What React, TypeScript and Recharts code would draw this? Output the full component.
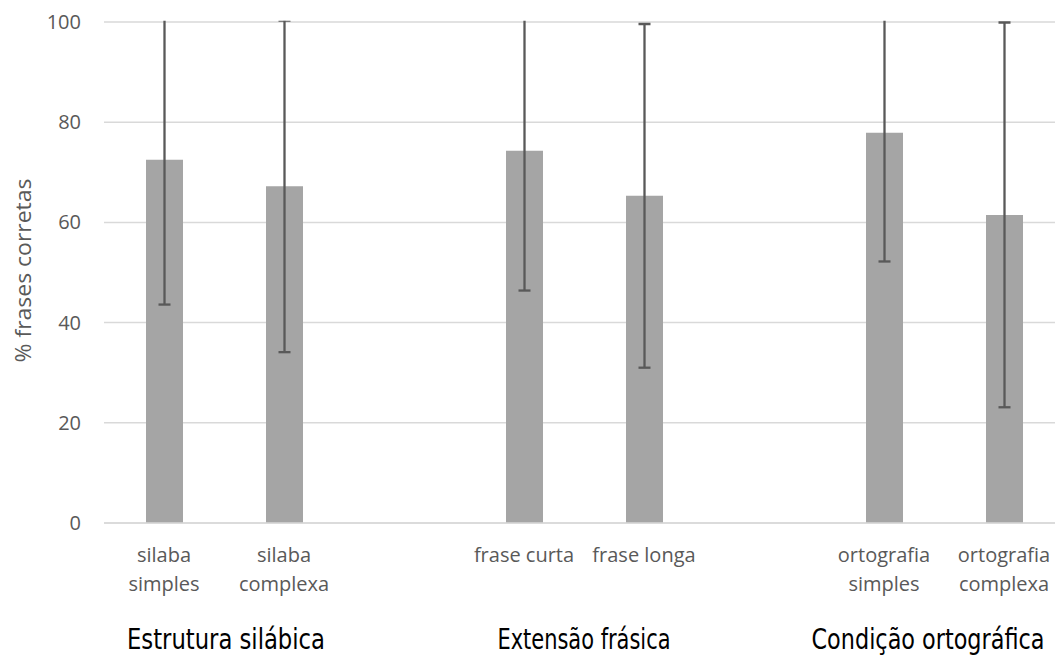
import { BarChart, Bar, XAxis, YAxis, CartesianGrid, ErrorBar } from 'recharts';

// categories (empty strings are the gaps between groups)
const categoryLabels = ['silaba\nsimples', 'silaba\ncomplexa', '', 'frase curta', 'frase longa', '', 'ortografia\nsimples', 'ortografia\ncomplexa'];
const means = [72.5, 67.2, null, 74.3, 65.3, null, 77.9, 61.5];
const lowerEnds = [43.6, 34.1, null, 46.4, 31.0, null, 52.2, 23.1];

const groupLabels = ['Estrutura silábica', 'Extensão frásica', 'Condição ortográfica'];
const groupFirstIndex = [0, 3, 6];

const yTicks = [0, 20, 40, 60, 80, 100];
const yTitle = '% frases corretas';

const data = categoryLabels.map((label, i) => ({
    key: `c${i}`,
    label,
    mean: means[i],
    err: means[i] != null && lowerEnds[i] != null ? means[i]! - lowerEnds[i]! : undefined,
}));

// layout tweaks for the group captions (hand placed text boxes in the original)
const groupDx = [2, 0, -16];
const groupBaseline = [649, 649, 649];
const groupFont = [28, 28, 28];
const groupWidth = [198, 173, 233];

const XTick = (props: any) => {
    const { x, y, payload } = props;
    const i = payload.index;
    const lines = (categoryLabels[i] || '').split('\n');
    const g = groupFirstIndex.indexOf(i);
    return (
        <g>
            <text x={x} y={y} textAnchor="middle" fill="#595959" fontSize={20} fontFamily="'Open Sans', sans-serif">
                {lines.map((l, k) => (
                    <tspan key={k} x={x} dy={k === 0 ? 31 : 29}>{l}</tspan>
                ))}
            </text>
            {g >= 0 && (
                <text
                    x={x + payload.offset + groupDx[g]}
                    y={groupBaseline[g]}
                    textAnchor="middle"
                    fill="#000"
                    fontSize={groupFont[g]}
                    fontFamily="'Liberation Sans Narrow', 'DejaVu Sans Condensed', sans-serif"
                    textLength={groupWidth[g]}
                    lengthAdjust="spacingAndGlyphs"
                >
                    {groupLabels[g]}
                </text>
            )}
        </g>
    );
};

const YTick = (props: any) => {
    const { y, payload } = props;
    return (
        <text x={81} y={y} dy={7} textAnchor="end" fill="#595959" fontSize={20} fontFamily="'Open Sans', sans-serif">
            {payload.value}
        </text>
    );
};

const YTitle = (props: any) => {
    const vb = props.viewBox || {};
    const cx = 22;
    const cy = (vb.y ?? 22) + (vb.height ?? 501) / 2 - 2;
    return (
        <text
            x={cx}
            y={cy}
            transform={`rotate(-90 ${cx} ${cy})`}
            textAnchor="middle"
            dominantBaseline="central"
            fill="#595959"
            fontSize={22}
            textLength={184}
            lengthAdjust="spacingAndGlyphs"
            fontFamily="'Open Sans', sans-serif"
        >
            {yTitle}
        </text>
    );
};

export default function App() {
    return (
        <div style={{ position: 'absolute', left: 0, top: 0, width: 1055, height: 663, overflow: 'hidden', background: '#fff' }}>
            {/* error bars above 100 are cut at the plot edge, like in the source chart */}
            <style>{`.recharts-errorBar { clip-path: url(#errClip); }`}</style>
            <svg width={0} height={0} style={{ position: 'absolute' }}>
                <defs>
                    <clipPath id="errClip">
                        <rect x={100} y={20.8} width={970} height={510} />
                    </clipPath>
                </defs>
            </svg>
            <BarChart width={1070} height={663} data={data} margin={{ top: 22, right: 6, left: 0, bottom: 0 }} barCategoryGap={0}>
                <CartesianGrid vertical={false} stroke="#d9d9d9" strokeWidth={1.5} />
                <XAxis
                    dataKey="key"
                    height={140}
                    axisLine={{ stroke: '#d9d9d9', strokeWidth: 1.5 }}
                    tickLine={false}
                    interval={0}
                    tick={<XTick />}
                />
                <YAxis
                    width={104}
                    domain={[0, 100]}
                    ticks={yTicks}
                    allowDataOverflow
                    axisLine={false}
                    tickLine={false}
                    tick={<YTick />}
                    label={{ position: 'insideLeft', content: <YTitle /> }}
                />
                <Bar dataKey="mean" fill="#a5a5a5" barSize={37} isAnimationActive={false}>
                    <ErrorBar dataKey="err" width={6} stroke="#595959" strokeWidth={2.3} direction="y" isAnimationActive={false} />
                </Bar>
            </BarChart>
        </div>
    );
}
